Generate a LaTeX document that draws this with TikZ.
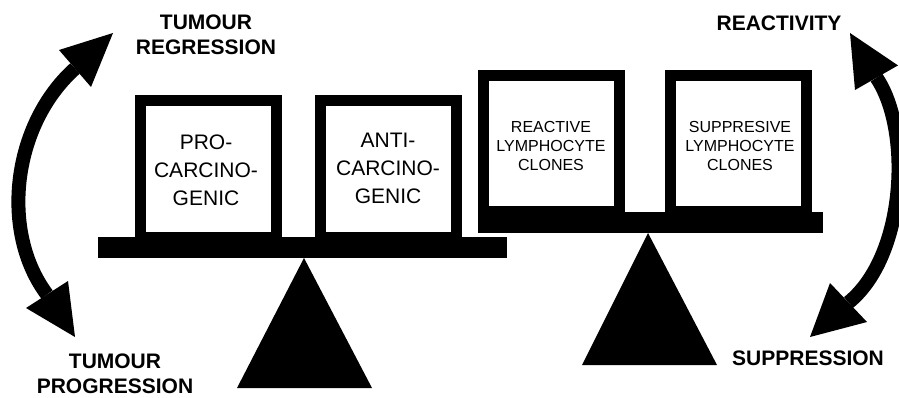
\documentclass[tikz,border=0pt]{standalone}
\usepackage{fontspec}
\setmainfont{Liberation Sans}
\begin{document}
\begin{tikzpicture}[x=1pt,y=-1pt,
  frame/.style={draw=black,line width=11pt},
  beambar/.style={fill=black},
  fulcrum/.style={fill=black},
  shaft/.style={draw=black,line width=14pt,line cap=butt},
  headfill/.style={fill=black},
  lab/.style={font=\bfseries\fontsize{21}{25}\selectfont,align=center,inner sep=0pt},
  bigtext/.style={font=\fontsize{21}{28}\selectfont,align=center,inner sep=0pt},
  smalltext/.style={font=\fontsize{16}{19}\selectfont,align=center,inner sep=0pt}]
\useasboundingbox[fill=white] (0,0) rectangle (899,398);

% left balance
\fill[beambar] (98,237) rectangle (507,258);
\draw[frame] (140.5,100.5) rectangle (276.5,237);
\draw[frame] (320.5,100.5) rectangle (456.5,237);
\fill[fulcrum] (304,258) -- (372,388) -- (237,388) -- cycle;
\node[bigtext] (pro) at (206,170) {PRO-\\CARCINO-\\GENIC};
\node[bigtext] (anti) at (388,168) {ANTI-\\CARCINO-\\GENIC};

% right balance
\fill[beambar] (478,212) rectangle (823,233);
\draw[frame] (483.5,75.5) rectangle (619.5,212);
\draw[frame] (670.5,75.5) rectangle (806.5,212);
\fill[fulcrum] (648,233) -- (717,365) -- (582,365) -- cycle;
\node[smalltext] (react) at (551,146) {REACTIVE\\LYMPHOCYTE\\CLONES};
\node[smalltext] (supp) at (740,146) {SUPPRESIVE\\LYMPHOCYTE\\CLONES};

% labels
\node[lab] (reg) at (206,35) {TUMOUR\\REGRESSION};
\node[lab] (prog) at (115,374) {TUMOUR\\PROGRESSION};
\node[lab] (reac) at (779,23.5) {REACTIVITY};
\node[lab] (suppr) at (808,358.5) {SUPPRESSION};

% left double arrow
\coordinate (la) at (75,68.5);
\coordinate (lb) at (47,294.5);
\draw[shaft] (la) .. controls (12,125) and (0,232) .. (lb);
\fill[headfill] (113,33) -- (59,50) -- (91,87) -- cycle;
\fill[headfill] (75,337) -- (26,308) -- (68,281) -- cycle;

% right double arrow
\coordinate (ra) at (876.5,77.7);
\coordinate (rb) at (848.5,302.5);
\draw[shaft] (ra) .. controls (912,130) and (906,256) .. (rb);
\fill[headfill] (850,33) -- (855,90) -- (898,65.4) -- cycle;
\fill[headfill] (810,337) -- (830,283) -- (867,322) -- cycle;
\end{tikzpicture}
\end{document}
